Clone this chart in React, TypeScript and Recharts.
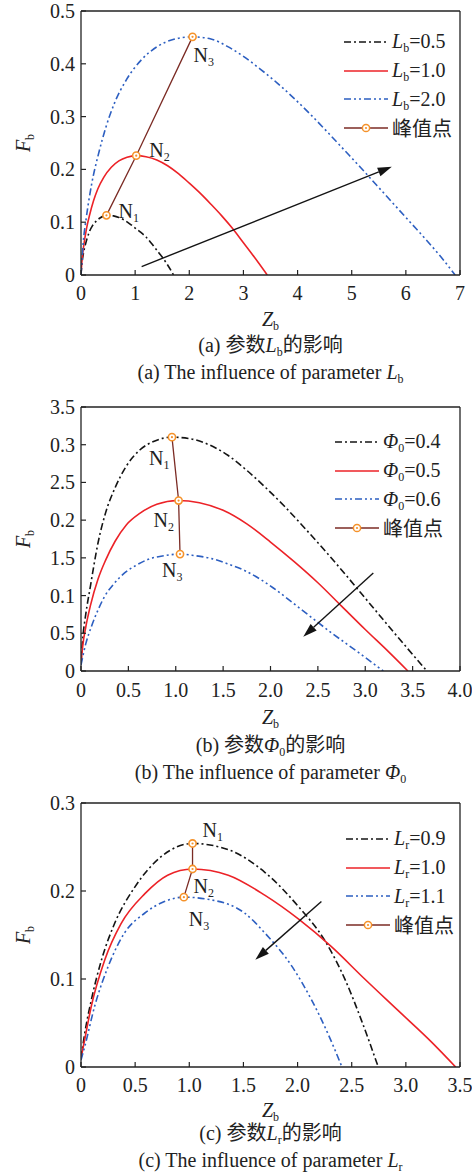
import React from "react";
import { LineChart, Line, XAxis, YAxis, ReferenceLine, LabelList, Label } from "recharts";

const SERIF = "'Liberation Serif', 'Times New Roman', 'Noto Sans CJK SC', serif";
const INK = "#222";
const BLACK = "#141414";
const RED = "#ec2227";
const BLUE = "#2d5fc1";
const PEAK_LINE = "#7b2b24";
const PEAK_DOT = "#f5922a";
const DASH_DOT = "7 3 2 3";
const DASH_DOT_DOT = "7 3 2 3 2 3";

// (a) influence of Lb
const aXTicks = [0, 1, 2, 3, 4, 5, 6, 7];
const aXLabels = ["0", "1", "2", "3", "4", "5", "6", "7"];
const aYTicks = [0, 0.1, 0.2, 0.3, 0.4, 0.5];
const aYLabels = ["0", "0.1", "0.2", "0.3", "0.4", "0.5"];
const lb05Z = [0, 0.01, 0.025, 0.05, 0.08, 0.115, 0.155, 0.21, 0.28, 0.35, 0.425, 0.51, 0.6, 0.7, 0.8, 0.9, 1.0, 1.1, 1.2, 1.3, 1.4, 1.5, 1.6, 1.71];
const lb05F = [0, 0.015, 0.028, 0.044, 0.057, 0.07, 0.082, 0.093, 0.102, 0.108, 0.112, 0.113, 0.112, 0.109, 0.104, 0.097, 0.089, 0.081, 0.072, 0.06, 0.047, 0.034, 0.019, 0];
const lb10Z = [0, 0.02, 0.05, 0.1, 0.16, 0.23, 0.31, 0.42, 0.56, 0.7, 0.85, 1.02, 1.2, 1.4, 1.6, 1.8, 2.0, 2.2, 2.4, 2.6, 2.8, 3.0, 3.2, 3.44];
const lb10F = [0, 0.03, 0.055, 0.087, 0.114, 0.14, 0.163, 0.185, 0.204, 0.216, 0.223, 0.226, 0.224, 0.218, 0.207, 0.192, 0.174, 0.155, 0.134, 0.112, 0.088, 0.061, 0.034, 0];
const lb20Z = [0, 0.04, 0.1, 0.2, 0.32, 0.46, 0.62, 0.84, 1.12, 1.4, 1.7, 2.06, 2.4, 2.72, 3.0, 3.31, 3.62, 3.92, 4.23, 4.54, 4.85, 5.16, 5.47, 5.77, 6.08, 6.39, 6.65, 6.91];
const lb20F = [0, 0.06, 0.11, 0.174, 0.228, 0.28, 0.326, 0.37, 0.408, 0.432, 0.446, 0.451, 0.447, 0.432, 0.414, 0.39, 0.364, 0.336, 0.305, 0.272, 0.238, 0.204, 0.169, 0.135, 0.1, 0.065, 0.034, 0];
const aPeakZ = [0.47, 1.02, 2.06];
const aPeakF = [0.113, 0.226, 0.451];
const aArrow = [[1.12, 0.016], [5.74, 0.205]];

// (b) influence of Phi0 (tick labels kept as printed)
const bXTicks = [0, 0.5, 1, 1.5, 2, 2.5, 3, 3.5, 4];
const bXLabels = ["0", "0.5", "1.0", "1.5", "2.0", "2.5", "3.0", "3.5", "4.0"];
const bYTicks = [0, 0.05, 0.1, 0.15, 0.2, 0.25, 0.3, 0.35];
const bYLabels = ["0", "0.5", "0.1", "1.5", "0.2", "2.5", "0.3", "3.5"];
const phi04Z = [0, 0.02, 0.05, 0.1, 0.18, 0.26, 0.36, 0.48, 0.62, 0.78, 0.96, 1.15, 1.35, 1.55, 1.75, 1.95, 2.15, 2.35, 2.55, 2.75, 2.95, 3.15, 3.35, 3.5, 3.65];
const phi04F = [0.01, 0.045, 0.075, 0.113, 0.17, 0.21, 0.243, 0.272, 0.293, 0.305, 0.31, 0.308, 0.3, 0.286, 0.266, 0.243, 0.218, 0.191, 0.163, 0.134, 0.104, 0.074, 0.044, 0.022, 0];
const phi05Z = [0, 0.02, 0.05, 0.1, 0.18, 0.26, 0.36, 0.48, 0.62, 0.8, 1.02, 1.25, 1.5, 1.75, 2.0, 2.25, 2.5, 2.75, 3.0, 3.25, 3.45];
const phi05F = [0.01, 0.035, 0.058, 0.087, 0.122, 0.147, 0.172, 0.194, 0.209, 0.221, 0.226, 0.223, 0.213, 0.195, 0.171, 0.145, 0.117, 0.086, 0.055, 0.025, 0];
const phi06Z = [0, 0.05, 0.11, 0.18, 0.25, 0.35, 0.46, 0.58, 0.71, 0.88, 1.05, 1.2, 1.38, 1.55, 1.73, 1.9, 2.03, 2.29, 2.65, 3.0, 3.19];
const phi06F = [0.008, 0.036, 0.059, 0.081, 0.099, 0.116, 0.13, 0.14, 0.148, 0.153, 0.155, 0.153, 0.149, 0.142, 0.133, 0.121, 0.11, 0.085, 0.05, 0.018, 0];
const bPeakZ = [0.96, 1.03, 1.045];
const bPeakF = [0.31, 0.226, 0.155];
const bArrow = [[3.085, 0.13], [2.346, 0.0455]];

// (c) influence of Lr
const cXTicks = [0, 0.5, 1, 1.5, 2, 2.5, 3, 3.5];
const cXLabels = ["0", "0.5", "1.0", "1.5", "2.0", "2.5", "3.0", "3.5"];
const cYTicks = [0, 0.1, 0.2, 0.3];
const cYLabels = ["0", "0.1", "0.2", "0.3"];
const lr09Z = [0, 0.034, 0.095, 0.19, 0.31, 0.5, 0.74, 1.03, 1.36, 1.7, 2.01, 2.25, 2.44, 2.59, 2.745];
const lr09F = [0.01, 0.038, 0.076, 0.122, 0.163, 0.205, 0.239, 0.254, 0.247, 0.221, 0.182, 0.144, 0.099, 0.053, 0];
const lr10Z = [0, 0.034, 0.095, 0.22, 0.37, 0.59, 0.8, 1.03, 1.36, 1.7, 2.01, 2.31, 2.62, 2.93, 3.24, 3.46];
const lr10F = [0.01, 0.031, 0.069, 0.122, 0.163, 0.197, 0.218, 0.225, 0.218, 0.195, 0.168, 0.137, 0.1, 0.064, 0.028, 0];
const lr11Z = [0, 0.034, 0.126, 0.25, 0.4, 0.59, 0.77, 0.95, 1.2, 1.51, 1.7, 1.95, 2.13, 2.28, 2.41];
const lr11F = [0.008, 0.023, 0.069, 0.114, 0.152, 0.175, 0.188, 0.193, 0.19, 0.175, 0.152, 0.114, 0.076, 0.038, 0];
const cPeakZ = [1.03, 1.03, 0.95];
const cPeakF = [0.254, 0.225, 0.193];
const cArrow = [[2.22, 0.188], [1.61, 0.122]];

const zip = (z: number[], f: number[]) => z.map((x, i) => ({ x, y: f[i] }));

const Sub = ({ children }: { children: React.ReactNode }) => (
  <span style={{ fontSize: 12, position: "relative", top: 4 }}>{children}</span>
);

type Series = { key: string; z: number[]; f: number[]; color: string; dash?: string; label: React.ReactNode };

type PanelProps = {
  top: number;
  xMax: number;
  yMax: number;
  xTicks: number[];
  xLabels: string[];
  yTicks: number[];
  yLabels: string[];
  series: Series[];
  peakZ: number[];
  peakF: number[];
  nOffsets: number[][];
  arrow: number[][];
  legendX: number;
  legendY: number;
  tickGap: number;
  titleGap: number;
  captionTop: number;
  captions: React.ReactNode[];
};

function labelOf(ticks: number[], labels: string[], v: number) {
  const i = ticks.findIndex((t) => Math.abs(t - v) < 1e-6);
  return i >= 0 ? labels[i] : String(v);
}

function ArrowShape(p: any) {
  const { x1, y1, x2, y2 } = p;
  const a = Math.atan2(y2 - y1, x2 - x1);
  const len = 14;
  const w = 4.5;
  const bx = x2 - len * Math.cos(a);
  const by = y2 - len * Math.sin(a);
  const px = -Math.sin(a) * w;
  const py = Math.cos(a) * w;
  return (
    <g>
      <line x1={x1} y1={y1} x2={bx} y2={by} stroke={BLACK} strokeWidth={1.4} />
      <polygon points={`${x2},${y2} ${bx + px},${by + py} ${bx - px},${by - py}`} fill={BLACK} />
    </g>
  );
}

function PeakDot(p: any) {
  if (p.cx == null || p.cy == null) return null;
  return (
    <g key={`pd-${p.index}`}>
      <circle cx={p.cx} cy={p.cy} r={3.6} fill="#fff" stroke={PEAK_DOT} strokeWidth={1.6} />
      <circle cx={p.cx} cy={p.cy} r={1.1} fill={PEAK_DOT} />
    </g>
  );
}

function Swatch({ color, dash, peak }: { color: string; dash?: string; peak?: boolean }) {
  return (
    <svg width={44} height={20} style={{ display: "block" }}>
      <line x1={0} y1={10} x2={44} y2={10} stroke={color} strokeWidth={1.6} strokeDasharray={dash} />
      {peak && (
        <>
          <circle cx={22} cy={10} r={3.6} fill="#fff" stroke={PEAK_DOT} strokeWidth={1.5} />
          <circle cx={22} cy={10} r={1.1} fill={PEAK_DOT} />
        </>
      )}
    </svg>
  );
}

function Panel(props: PanelProps) {
  const { xMax, yMax, xTicks, xLabels, yTicks, yLabels, tickGap, titleGap } = props;

  const XTick = (t: any) => (
    <g>
      <line x1={t.x} y1={t.y} x2={t.x} y2={t.y - 5} stroke={INK} strokeWidth={1.2} />
      <text x={t.x} y={t.y + tickGap} textAnchor="middle" fontFamily={SERIF} fontSize={20} fill={INK}>
        {labelOf(xTicks, xLabels, t.payload.value)}
      </text>
    </g>
  );
  const YTick = (t: any) => (
    <g>
      <line x1={t.x} y1={t.y} x2={t.x + 5} y2={t.y} stroke={INK} strokeWidth={1.2} />
      <text x={t.x - 6} y={t.y + 7} textAnchor="end" fontFamily={SERIF} fontSize={20} fill={INK}>
        {labelOf(yTicks, yLabels, t.payload.value)}
      </text>
    </g>
  );
  const XTitle = (l: any) => {
    const vb = l.viewBox;
    return (
      <text x={vb.x + vb.width / 2} y={vb.y + titleGap} textAnchor="middle" fontFamily={SERIF} fontSize={20} fill={INK}>
        <tspan fontStyle="italic">Z</tspan>
        <tspan fontSize={12} dy={4}>b</tspan>
      </text>
    );
  };
  const YTitle = (l: any) => {
    const vb = l.viewBox;
    const cx = 23;
    const cy = vb.y + vb.height / 2;
    return (
      <text x={cx} y={cy} textAnchor="middle" transform={`rotate(-90 ${cx} ${cy})`} fontFamily={SERIF} fontSize={20} fill={INK} dy={7}>
        <tspan fontStyle="italic">F</tspan>
        <tspan fontSize={12} dy={4}>b</tspan>
      </text>
    );
  };
  const NLabel = (l: any) => {
    const off = props.nOffsets[l.index] || [0, 0];
    return (
      <text x={l.x + off[0]} y={l.y + off[1]} fontFamily={SERIF} fontSize={20} fill={INK}>
        N<tspan fontSize={12} dy={4}>{l.index + 1}</tspan>
      </text>
    );
  };

  const legendRows = [
    ...props.series.map((s) => ({ key: s.key, label: s.label, swatch: <Swatch color={s.color} dash={s.dash} /> })),
    { key: "peak", label: "峰值点", swatch: <Swatch color={PEAK_LINE} peak /> },
  ];

  return (
    <div style={{ position: "absolute", left: 0, top: props.top, width: 472, height: 396 }}>
      <LineChart width={472} height={345} margin={{ top: 11, right: 12, bottom: 0, left: 0 }}>
        <XAxis
          type="number"
          dataKey="x"
          domain={[0, xMax]}
          ticks={xTicks}
          interval={0}
          allowDataOverflow
          height={70}
          tickSize={0}
          tickMargin={0}
          tickLine={false}
          axisLine={{ stroke: INK, strokeWidth: 1.3 }}
          tick={XTick}
        >
          <Label content={XTitle} />
        </XAxis>
        <YAxis
          type="number"
          dataKey="y"
          domain={[0, yMax]}
          ticks={yTicks}
          interval={0}
          allowDataOverflow
          width={81}
          tickSize={0}
          tickMargin={0}
          tickLine={false}
          axisLine={{ stroke: INK, strokeWidth: 1.3 }}
          tick={YTick}
        >
          <Label content={YTitle} />
        </YAxis>
        <ReferenceLine y={yMax} stroke={INK} strokeWidth={1.3} />
        <ReferenceLine x={xMax} stroke={INK} strokeWidth={1.3} />
        {props.series.map((s) => (
          <Line
            key={s.key}
            data={zip(s.z, s.f)}
            dataKey="y"
            type="monotone"
            stroke={s.color}
            strokeWidth={1.6}
            strokeDasharray={s.dash}
            dot={false}
            activeDot={false}
            isAnimationActive={false}
          />
        ))}
        <Line
          data={zip(props.peakZ, props.peakF)}
          dataKey="y"
          type="linear"
          stroke={PEAK_LINE}
          strokeWidth={1.3}
          dot={PeakDot}
          activeDot={false}
          isAnimationActive={false}
        >
          <LabelList dataKey="y" content={NLabel} />
        </Line>
        <ReferenceLine
          segment={[
            { x: props.arrow[0][0], y: props.arrow[0][1] },
            { x: props.arrow[1][0], y: props.arrow[1][1] },
          ]}
          shape={ArrowShape}
        />
      </LineChart>

      <div style={{ position: "absolute", left: props.legendX, top: props.legendY - 14.3, fontFamily: SERIF, fontSize: 20, color: INK }}>
        {legendRows.map((r) => (
          <div key={r.key} style={{ display: "flex", alignItems: "center", height: 28.6 }}>
            {r.swatch}
            <span style={{ marginLeft: 4, whiteSpace: "nowrap" }}>{r.label}</span>
          </div>
        ))}
      </div>

      <div
        style={{
          position: "absolute",
          left: 70,
          width: 401,
          top: props.captionTop,
          textAlign: "center",
          fontFamily: SERIF,
          fontSize: 20,
          lineHeight: "24px",
          color: INK,
          whiteSpace: "nowrap",
        }}
      >
        <div>{props.captions[0]}</div>
        <div>{props.captions[1]}</div>
      </div>
    </div>
  );
}

const Lb = (v: string) => (
  <>
    <i>L</i>
    <Sub>b</Sub>={v}
  </>
);
const Phi = (v: string) => (
  <>
    <i>Φ</i>
    <Sub>0</Sub>={v}
  </>
);
const Lr = (v: string) => (
  <>
    <i>L</i>
    <Sub>r</Sub>={v}
  </>
);

export default function App() {
  return (
    <div style={{ position: "absolute", left: 0, top: 0, width: 472, height: 1174, background: "#fff", fontFamily: SERIF, overflow: "hidden" }}>
      <Panel
        top={0}
        xMax={7}
        yMax={0.5}
        xTicks={aXTicks}
        xLabels={aXLabels}
        yTicks={aYTicks}
        yLabels={aYLabels}
        series={[
          { key: "lb05", z: lb05Z, f: lb05F, color: BLACK, dash: DASH_DOT, label: Lb("0.5") },
          { key: "lb10", z: lb10Z, f: lb10F, color: RED, label: Lb("1.0") },
          { key: "lb20", z: lb20Z, f: lb20F, color: BLUE, dash: DASH_DOT_DOT, label: Lb("2.0") },
        ]}
        peakZ={aPeakZ}
        peakF={aPeakF}
        nOffsets={[[12, 3], [13, 1], [1, 25]]}
        arrow={aArrow}
        legendX={344}
        legendY={42}
        tickGap={25}
        titleGap={51}
        captionTop={333}
        captions={[
          <>(a) 参数<i>L</i><Sub>b</Sub>的影响</>,
          <>(a) The influence of parameter <i>L</i><Sub>b</Sub></>,
        ]}
      />
      <Panel
        top={396}
        xMax={4}
        yMax={0.35}
        xTicks={bXTicks}
        xLabels={bXLabels}
        yTicks={bYTicks}
        yLabels={bYLabels}
        series={[
          { key: "phi04", z: phi04Z, f: phi04F, color: BLACK, dash: DASH_DOT, label: Phi("0.4") },
          { key: "phi05", z: phi05Z, f: phi05F, color: RED, label: Phi("0.5") },
          { key: "phi06", z: phi06Z, f: phi06F, color: BLUE, dash: DASH_DOT_DOT, label: Phi("0.6") },
        ]}
        peakZ={bPeakZ}
        peakF={bPeakF}
        nOffsets={[[-23, 28], [-25, 26], [-18, 23]]}
        arrow={bArrow}
        legendX={335}
        legendY={46}
        tickGap={26}
        titleGap={53}
        captionTop={337}
        captions={[
          <>(b) 参数<i>Φ</i><Sub>0</Sub>的影响</>,
          <>(b) The influence of parameter <i>Φ</i><Sub>0</Sub></>,
        ]}
      />
      <Panel
        top={792}
        xMax={3.5}
        yMax={0.3}
        xTicks={cXTicks}
        xLabels={cXLabels}
        yTicks={cYTicks}
        yLabels={cYLabels}
        series={[
          { key: "lr09", z: lr09Z, f: lr09F, color: BLACK, dash: DASH_DOT, label: Lr("0.9") },
          { key: "lr10", z: lr10Z, f: lr10F, color: RED, label: Lr("1.0") },
          { key: "lr11", z: lr11Z, f: lr11F, color: BLUE, dash: DASH_DOT_DOT, label: Lr("1.1") },
        ]}
        peakZ={cPeakZ}
        peakF={cPeakF}
        nOffsets={[[10, -6], [1, 24], [5, 29]]}
        arrow={cArrow}
        legendX={346}
        legendY={47}
        tickGap={25}
        titleGap={50}
        captionTop={329}
        captions={[
          <>(c) 参数<i>L</i><Sub>r</Sub>的影响</>,
          <>(c) The influence of parameter <i>L</i><Sub>r</Sub></>,
        ]}
      />
    </div>
  );
}
